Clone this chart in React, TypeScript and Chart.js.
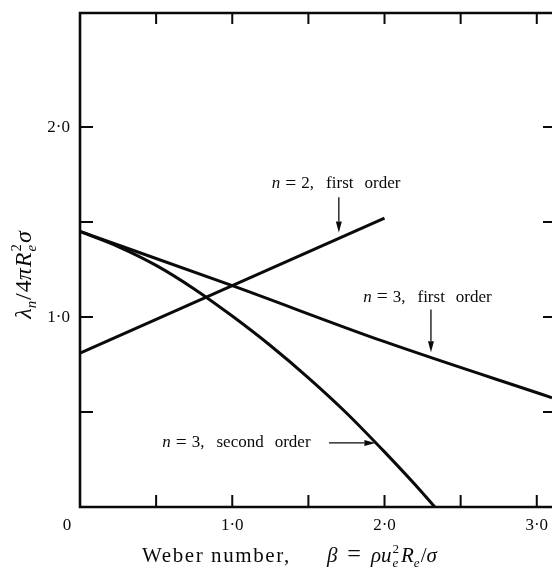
import React, { useEffect, useRef } from 'react';
import { Chart, registerables } from 'chart.js';

Chart.register(...registerables);

// Eigenvalue λn / 4πR²eσ against Weber number β
const n2FirstBeta = [0, 2.0];
const n2FirstLambda = [0.81, 1.52];

const n3FirstBeta = [0, 1.0, 2.0, 3.1];
const n3FirstLambda = [1.45, 1.165, 0.87, 0.575];

const n3SecondBeta = [0, 0.25, 0.5, 0.75, 1.0, 1.25, 1.5, 1.75, 2.0, 2.25, 2.33];
const n3SecondLambda = [1.45, 1.371, 1.272, 1.148, 1.005, 0.85, 0.68, 0.495, 0.29, 0.074, 0];

// Tick marks every 0.5, labels at the whole numbers
const xTickValues = [0.5, 1, 1.5, 2, 2.5, 3];
const yTickValues = [0.5, 1, 1.5, 2];
const xLabelValues = [0, 1, 2, 3];
const xLabels = ['0', '1·0', '2·0', '3·0'];
const yLabelValues = [1, 2];
const yLabels = ['1·0', '2·0'];

const SERIF = '"Liberation Serif", "DejaVu Serif", serif';
const INK = '#0a0a0a';

type Run = {
  t: string;
  it?: boolean;
  scale?: number;
  dy?: number;
  gap?: number;
  ls?: number;
  hold?: boolean;
};

// Lays out a row of text pieces (italic letters, sub/superscripts); returns width
function runRow(
  ctx: CanvasRenderingContext2D,
  runs: Run[],
  size: number,
  x0: number,
  y0: number,
  draw: boolean
): number {
  let x = x0;
  let held = 0;
  for (const r of runs) {
    x += r.gap ?? 0;
    const s = size * (r.scale ?? 1);
    ctx.font = `${r.it ? 'italic ' : ''}${s}px ${SERIF}`;
    (ctx as any).letterSpacing = `${r.ls ?? 0}px`;
    const w = ctx.measureText(r.t).width;
    if (draw) ctx.fillText(r.t, x, y0 + (r.dy ?? 0) * size);
    if (r.hold) {
      held = w;
    } else {
      x += Math.max(w, held);
      held = 0;
    }
  }
  (ctx as any).letterSpacing = '0px';
  return x - x0;
}

function curveLabel(n: string, order: string): Run[] {
  return [
    { t: 'n', it: true },
    { t: '=', gap: 5, scale: 1.15 },
    { t: `${n},`, gap: 5 },
    { t: order, gap: 12 },
    { t: 'order', gap: 11 },
  ];
}

const xTitle: Run[] = [
  { t: 'Weber number,', ls: 1.6 },
  { t: 'β', it: true, gap: 36 },
  { t: '=', gap: 10, scale: 1.15 },
  { t: 'ρu', it: true, gap: 10 },
  { t: '2', scale: 0.62, dy: -0.42, hold: true, gap: 1 },
  { t: 'e', it: true, scale: 0.62, dy: 0.22 },
  { t: 'R', it: true, gap: 2 },
  { t: 'e', it: true, scale: 0.62, dy: 0.22 },
  { t: '/', gap: 1 },
  { t: 'σ', it: true },
];

const yTitle: Run[] = [
  { t: 'λ', it: true },
  { t: 'n', it: true, scale: 0.62, dy: 0.22 },
  { t: '/', gap: 1 },
  { t: '4', gap: 1 },
  { t: 'π', it: true },
  { t: 'R', it: true, gap: 1 },
  { t: '2', scale: 0.62, dy: -0.42, hold: true, gap: 1 },
  { t: 'e', it: true, scale: 0.62, dy: 0.22 },
  { t: 'σ', it: true, gap: 1 },
];

function arrow(ctx: CanvasRenderingContext2D, x1: number, y1: number, x2: number, y2: number) {
  const ang = Math.atan2(y2 - y1, x2 - x1);
  const head = 11;
  const half = 3;
  const bx = x2 - head * Math.cos(ang);
  const by = y2 - head * Math.sin(ang);
  ctx.beginPath();
  ctx.moveTo(x1, y1);
  ctx.lineTo(bx, by);
  ctx.lineWidth = 1.3;
  ctx.stroke();
  ctx.beginPath();
  ctx.moveTo(x2, y2);
  ctx.lineTo(bx + half * Math.sin(ang), by - half * Math.cos(ang));
  ctx.lineTo(bx - half * Math.sin(ang), by + half * Math.cos(ang));
  ctx.closePath();
  ctx.fill();
}

const framePlugin = {
  id: 'frameAndNotes',
  afterDatasetsDraw(chart: Chart) {
    const ctx = chart.ctx;
    const { left, right, top, bottom } = chart.chartArea;
    const xs = chart.scales.x;
    const ys = chart.scales.y;
    ctx.save();
    ctx.strokeStyle = INK;
    ctx.fillStyle = INK;
    ctx.lineCap = 'butt';

    // frame
    ctx.lineWidth = 2.6;
    ctx.beginPath();
    ctx.moveTo(right + 4, top);
    ctx.lineTo(left, top);
    ctx.lineTo(left, bottom);
    ctx.lineTo(right + 4, bottom);
    ctx.stroke();

    // inward ticks
    ctx.lineWidth = 2;
    ctx.beginPath();
    for (const v of xTickValues) {
      const px = xs.getPixelForValue(v);
      ctx.moveTo(px, bottom);
      ctx.lineTo(px, bottom - 12);
      ctx.moveTo(px, top);
      ctx.lineTo(px, top + 11);
    }
    for (const v of yTickValues) {
      const py = ys.getPixelForValue(v);
      ctx.moveTo(left, py);
      ctx.lineTo(left + 13, py);
      ctx.moveTo(right + 1, py);
      ctx.lineTo(right - 9, py);
    }
    ctx.stroke();

    // tick labels
    ctx.font = `17px ${SERIF}`;
    ctx.textBaseline = 'middle';
    ctx.textAlign = 'center';
    xLabelValues.forEach((v, i) => {
      const px = xs.getPixelForValue(v) - (v === 0 ? 13 : 0);
      ctx.fillText(xLabels[i], px, bottom + 19);
    });
    ctx.textAlign = 'right';
    yLabelValues.forEach((v, i) => {
      ctx.fillText(yLabels[i], left - 10, ys.getPixelForValue(v) + 1);
    });

    // axis titles
    ctx.textAlign = 'left';
    ctx.textBaseline = 'alphabetic';
    runRow(ctx, xTitle, 21, left + 62, bottom + 55, true);

    ctx.save();
    const yw = runRow(ctx, yTitle, 24, 0, 0, false);
    ctx.translate(31, (top + bottom) / 2 + 15);
    ctx.rotate(-Math.PI / 2);
    runRow(ctx, yTitle, 24, -yw / 2, 0, true);
    ctx.restore();

    // curve labels with arrows
    const notes = [
      { runs: curveLabel('2', 'first'), at: [1.26, 1.70], from: [1.70, 1.63], to: [1.70, 1.445] },
      { runs: curveLabel('3', 'first'), at: [1.86, 1.105], from: [2.305, 1.04], to: [2.305, 0.815] },
      { runs: curveLabel('3', 'second'), at: [0.54, 0.337], from: [1.635, 0.337], to: [1.94, 0.337] },
    ];
    for (const n of notes) {
      ctx.textBaseline = 'middle';
      runRow(ctx, n.runs, 17, xs.getPixelForValue(n.at[0]), ys.getPixelForValue(n.at[1]), true);
      arrow(
        ctx,
        xs.getPixelForValue(n.from[0]),
        ys.getPixelForValue(n.from[1]),
        xs.getPixelForValue(n.to[0]),
        ys.getPixelForValue(n.to[1])
      );
    }
    ctx.restore();
  },
};

function toPoints(xs: number[], ys: number[]) {
  return xs.map((x, i) => ({ x, y: ys[i] }));
}

export default function App() {
  const ref = useRef<HTMLCanvasElement | null>(null);

  useEffect(() => {
    if (!ref.current) return;
    const line = {
      borderColor: INK,
      borderWidth: 3,
      pointRadius: 0,
      fill: false,
      borderCapStyle: 'butt' as const,
    };
    const chart = new Chart(ref.current, {
      type: 'line',
      data: {
        datasets: [
          { ...line, label: 'n = 2, first order', data: toPoints(n2FirstBeta, n2FirstLambda) },
          { ...line, label: 'n = 3, first order', data: toPoints(n3FirstBeta, n3FirstLambda), cubicInterpolationMode: 'monotone' },
          { ...line, label: 'n = 3, second order', data: toPoints(n3SecondBeta, n3SecondLambda), cubicInterpolationMode: 'monotone' },
        ],
      },
      options: {
        animation: false,
        responsive: false,
        events: [],
        layout: { padding: { left: 80, top: 13, right: 0, bottom: 62 } },
        scales: {
          x: { type: 'linear', min: 0, max: 3.1, display: false },
          y: { type: 'linear', min: 0, max: 2.6, display: false },
        },
        plugins: { legend: { display: false }, tooltip: { enabled: false } },
      },
      plugins: [framePlugin],
    });
    return () => chart.destroy();
  }, []);

  return (
    <div style={{ position: 'absolute', left: 0, top: 0, width: 552, height: 569, background: '#fff', overflow: 'hidden' }}>
      <canvas ref={ref} width={552} height={569} style={{ display: 'block' }} />
    </div>
  );
}
